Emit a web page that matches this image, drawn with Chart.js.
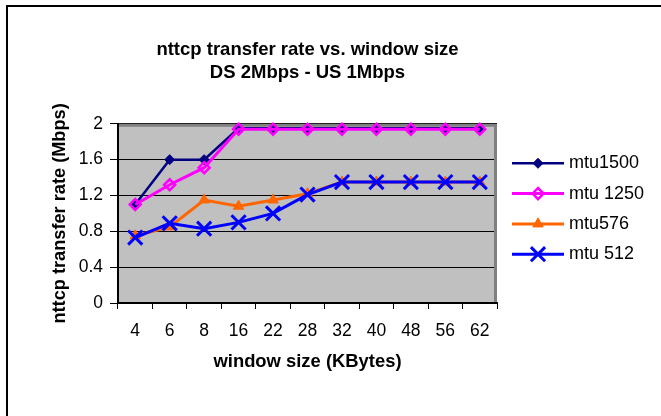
<!DOCTYPE html>
<html>
<head>
<meta charset="utf-8">
<script src="https://cdn.jsdelivr.net/npm/chart.js@4/dist/chart.umd.min.js"></script>
<style>
  html, body { margin: 0; padding: 0; background: #fff; }
  canvas { display: block; }
</style>
</head>
<body>
<canvas id="chart" width="661" height="416"></canvas>
<script>
// Window sizes (KBytes) on the category axis
const windowSizes = ['4', '6', '8', '16', '22', '28', '32', '40', '48', '56', '62'];

// Transfer rate (Mbps) per MTU setting
const mtu1500 = [1.10, 1.60, 1.60, 1.95, 1.95, 1.95, 1.95, 1.95, 1.95, 1.95, 1.95];
const mtu1250 = [1.10, 1.32, 1.51, 1.94, 1.94, 1.94, 1.94, 1.94, 1.94, 1.94, 1.94];
const mtu576  = [0.75, 0.85, 1.15, 1.08, 1.15, 1.22, 1.35, 1.35, 1.35, 1.35, 1.35];
const mtu512  = [0.73, 0.89, 0.83, 0.90, 1.00, 1.21, 1.35, 1.35, 1.35, 1.35, 1.35];

const seriesNames = ['mtu1500', 'mtu 1250', 'mtu576', 'mtu 512'];
const yTicks = [0, 0.4, 0.8, 1.2, 1.6, 2];

const titleLines = ['nttcp transfer rate vs. window size', 'DS 2Mbps - US 1Mbps'];
const xTitle = 'window size (KBytes)';
const yTitle = 'nttcp transfer rate (Mbps)';

const FONT = "'Liberation Sans', Arial, sans-serif";
Chart.defaults.font.family = FONT;
Chart.defaults.color = '#000';

// Page frame, grey plot background and the plot-area border
const framePlugin = {
  id: 'frame',
  beforeDraw(chart) {
    const { ctx, chartArea: a } = chart;
    ctx.save();
    ctx.fillStyle = '#fff';
    ctx.fillRect(0, 0, chart.width, chart.height);
    ctx.fillStyle = '#000';
    ctx.fillRect(6, 5, chart.width, 2);
    ctx.fillRect(6, 5, 2, chart.height);
    ctx.fillStyle = '#c0c0c0';
    ctx.fillRect(a.left, a.top, a.right - a.left, a.bottom - a.top);
    ctx.restore();
  },
  beforeDatasetsDraw(chart) {
    const { ctx, chartArea: a } = chart;
    ctx.save();
    ctx.strokeStyle = '#808080';
    ctx.lineWidth = 3;
    ctx.beginPath();
    ctx.moveTo(a.left + 1, a.top + 1.5);
    ctx.lineTo(a.right - 1.5, a.top + 1.5);
    ctx.lineTo(a.right - 1.5, a.bottom - 1);
    ctx.stroke();
    ctx.restore();
  }
};

// Legend on the right: a short line with the series marker, then the name
const sideLegend = {
  id: 'sideLegend',
  afterDraw(chart) {
    const { ctx, chartArea: a } = chart;
    const x0 = a.right + 15, x1 = a.right + 67, xm = (x0 + x1) / 2, xt = a.right + 72;
    chart.data.datasets.forEach((ds, i) => {
      const y = a.top + 39.5 + i * 30.3;
      ctx.save();
      ctx.strokeStyle = ds.borderColor;
      ctx.lineWidth = ds.borderWidth;
      ctx.beginPath();
      ctx.moveTo(x0, y);
      ctx.lineTo(x1, y);
      ctx.stroke();
      ctx.fillStyle = ds.pointBackgroundColor;
      ctx.strokeStyle = ds.pointBorderColor;
      ctx.lineWidth = ds.pointBorderWidth;
      Chart.helpers.drawPoint(ctx, {
        pointStyle: ds.pointStyle,
        radius: ds.pointRadius,
        borderWidth: ds.pointBorderWidth,
        rotation: 0
      }, xm, y);
      ctx.fillStyle = '#000';
      ctx.font = '18px ' + FONT;
      ctx.textBaseline = 'middle';
      ctx.textAlign = 'left';
      ctx.fillText(ds.label, xt, y);
      ctx.restore();
    });
  }
};

const makeSeries = (label, data, color, lineWidth, style, radius, fill, pbw, order) => ({
  label, data, order,
  borderColor: color,
  borderWidth: lineWidth,
  pointStyle: style,
  pointRadius: radius,
  pointHoverRadius: radius,
  pointBackgroundColor: fill,
  pointBorderColor: color,
  pointBorderWidth: pbw,
  tension: 0,
  fill: false,
  clip: false
});

new Chart(document.getElementById('chart'), {
  type: 'line',
  data: {
    labels: windowSizes,
    datasets: [
      makeSeries(seriesNames[0], mtu1500, '#000080', 2.5, 'rectRot',  5,   '#000080', 1,   4),
      makeSeries(seriesNames[1], mtu1250, '#ff00ff', 3,   'rectRot',  5.5, 'rgba(0,0,0,0)', 2.5, 3),
      makeSeries(seriesNames[2], mtu576,  '#ff6600', 3,   'triangle', 6,   '#ff6600', 1,   2),
      makeSeries(seriesNames[3], mtu512,  '#0000ff', 3,   'crossRot', 10,  '#0000ff', 3,   1)
    ]
  },
  options: {
    responsive: false,
    animation: false,
    events: [],
    layout: { padding: { left: 0, top: 0, right: 164, bottom: 0 } },
    plugins: {
      legend: { display: false },
      tooltip: { enabled: false },
      title: {
        display: true,
        fullSize: false,
        text: titleLines,
        color: '#000',
        font: { size: 18.5, weight: 'bold', lineHeight: 1.26 },
        padding: { top: 38.2, bottom: 39 }
      }
    },
    scales: {
      x: {
        type: 'category',
        offset: true,
        afterFit(scale) { scale.height = 113; },
        grid: {
          offset: true,
          drawOnChartArea: false,
          drawTicks: true,
          tickLength: 6,
          color: '#000',
          lineWidth: 1
        },
        border: { display: true, color: '#000', width: 2 },
        ticks: { color: '#000', font: { size: 17.5 }, padding: 12, maxRotation: 0, autoSkip: false },
        title: {
          display: true,
          text: xTitle,
          color: '#000',
          font: { size: 18.4, weight: 'bold' },
          padding: { top: 0, bottom: 42.6 }
        }
      },
      y: {
        type: 'linear',
        min: yTicks[0],
        max: yTicks[yTicks.length - 1],
        afterFit(scale) { scale.width = 118; },
        afterBuildTicks(scale) { scale.ticks = yTicks.map(v => ({ value: v })); },
        grid: {
          drawOnChartArea: true,
          drawTicks: true,
          tickLength: 8,
          color: '#000',
          lineWidth: 1
        },
        border: { display: true, color: '#000', width: 2 },
        ticks: { color: '#000', font: { size: 17.5 }, padding: 7, callback: v => String(v) },
        title: {
          display: true,
          text: yTitle,
          color: '#000',
          font: { size: 18.2, weight: 'bold' },
          padding: { top: 49, bottom: 0 }
        }
      }
    }
  },
  plugins: [framePlugin, sideLegend]
});
</script>
</body>
</html>
